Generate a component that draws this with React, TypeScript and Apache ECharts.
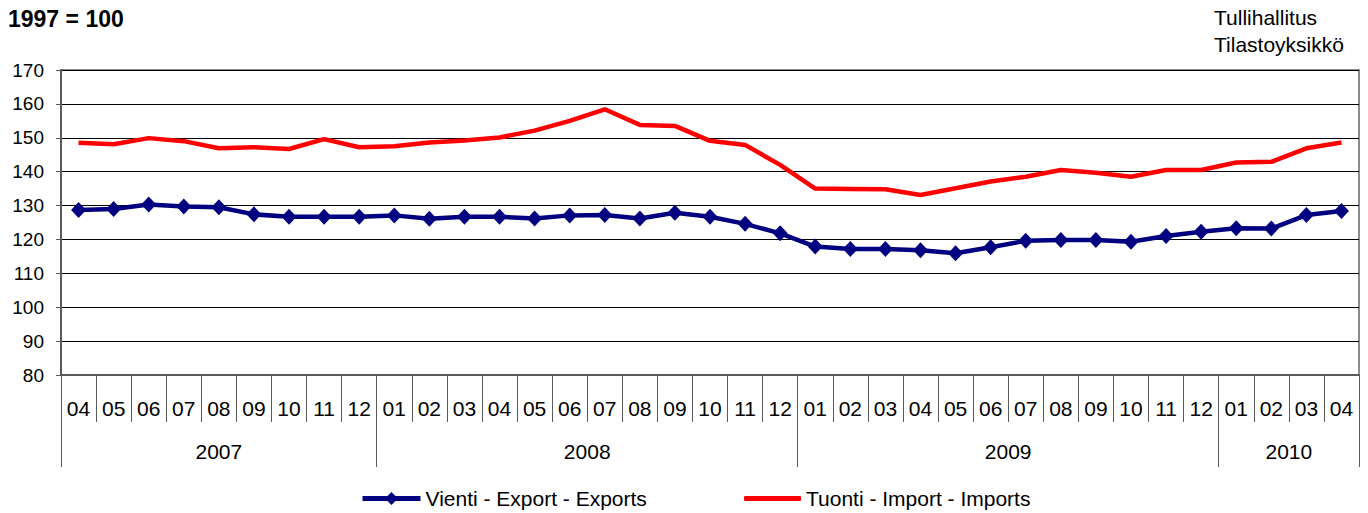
import React, { useEffect, useRef } from 'react';
import * as echarts from 'echarts';

const periods = [
  '2007-04', '2007-05', '2007-06', '2007-07', '2007-08', '2007-09', '2007-10', '2007-11', '2007-12',
  '2008-01', '2008-02', '2008-03', '2008-04', '2008-05', '2008-06', '2008-07', '2008-08', '2008-09', '2008-10', '2008-11', '2008-12',
  '2009-01', '2009-02', '2009-03', '2009-04', '2009-05', '2009-06', '2009-07', '2009-08', '2009-09', '2009-10', '2009-11', '2009-12',
  '2010-01', '2010-02', '2010-03', '2010-04',
];

const exportValues = [
  128.7, 129.0, 130.3, 129.7, 129.5, 127.4, 126.7, 126.7, 126.7,
  127.1, 126.1, 126.7, 126.7, 126.2, 127.1, 127.2, 126.2, 127.9, 126.7, 124.6, 121.8,
  117.9, 117.2, 117.2, 116.8, 115.9, 117.7, 119.6, 119.8, 119.8, 119.3, 121.0, 122.3,
  123.3, 123.2, 127.2, 128.4,
];

const importValues = [
  148.5, 148.1, 149.9, 149.0, 146.9, 147.2, 146.7, 149.6, 147.2,
  147.5, 148.6, 149.2, 150.1, 152.1, 155.0, 158.4, 153.8, 153.5, 149.1, 147.9, 142.0,
  135.0, 134.9, 134.8, 133.1, 135.1, 137.1, 138.5, 140.5, 139.7, 138.5, 140.5, 140.5,
  142.7, 142.9, 146.9, 148.6,
];

const yMin = 80;
const yMax = 170;
const yStep = 10;

const exportName = 'Vienti - Export - Exports';
const importName = 'Tuonti - Import - Imports';
const baseLabel = '1997 = 100';
const sourceLines = ['Tullihallitus', 'Tilastoyksikkö'];

const FONT = '"Liberation Sans", Arial, sans-serif';

export default function App() {
  const ref = useRef<HTMLDivElement>(null);

  useEffect(() => {
    if (!ref.current) return;
    const chart = echarts.init(ref.current, null, { renderer: 'svg' });

    const years: { year: string; start: number; end: number }[] = [];
    periods.forEach((p, i) => {
      const y = p.slice(0, 4);
      const last = years[years.length - 1];
      if (last && last.year === y) last.end = i + 1;
      else years.push({ year: y, start: i, end: i + 1 });
    });
    const yearBounds = [0, ...years.map((y) => y.end)];
    const yearCenters = years.map((y) => (y.start + y.end) / 2);

    const axisGrey = '#5a5a5a';

    chart.setOption({
      animation: false,
      backgroundColor: '#ffffff',
      textStyle: { fontFamily: FONT },
      grid: {
        left: 61,
        right: 9,
        top: 70,
        bottom: 138,
        show: true,
        borderColor: '#8c8c8c',
        borderWidth: 2,
        backgroundColor: 'transparent',
      },
      graphic: [
        {
          type: 'text',
          left: 8,
          top: 7,
          style: { text: baseLabel, font: `bold 23px ${FONT}`, fill: '#000' },
        },
        {
          type: 'text',
          left: 1214,
          top: 7,
          style: { text: sourceLines[0], font: `21px ${FONT}`, fill: '#000' },
        },
        {
          type: 'text',
          left: 1214,
          top: 34,
          style: { text: sourceLines[1], font: `21px ${FONT}`, fill: '#000' },
        },
      ],
      legend: [
        {
          left: 360,
          top: 488,
          padding: 0,
          itemWidth: 58,
          itemHeight: 16,
          data: [exportName],
          lineStyle: { width: 5 },
          textStyle: { fontSize: 21, color: '#000', fontFamily: FONT },
        },
        {
          left: 744,
          top: 488,
          padding: 0,
          itemWidth: 57,
          itemHeight: 5,
          data: [{ name: importName, icon: 'roundRect' }],
          textStyle: { fontSize: 21, color: '#000', fontFamily: FONT },
        },
      ],
      xAxis: [
        {
          type: 'category',
          data: periods,
          boundaryGap: true,
          position: 'bottom',
          axisLine: { show: true, onZero: false, lineStyle: { color: axisGrey, width: 2 } },
          axisTick: { show: true, interval: 0, length: 47, lineStyle: { color: axisGrey, width: 1 } },
          axisLabel: {
            interval: 0,
            margin: 23,
            fontSize: 21,
            color: '#000',
            fontFamily: FONT,
            formatter: (v: string) => v.slice(5),
          },
          splitLine: { show: false },
        },
        {
          type: 'value',
          min: 0,
          max: periods.length,
          position: 'bottom',
          axisLine: { show: false },
          axisTick: {
            show: true,
            length: 92,
            customValues: yearBounds,
            lineStyle: { color: axisGrey, width: 1 },
          },
          axisLabel: {
            show: true,
            margin: 66,
            fontSize: 21,
            color: '#000',
            fontFamily: FONT,
            customValues: yearCenters,
            formatter: (v: number) => {
              const y = years.find((yy) => Math.abs((yy.start + yy.end) / 2 - v) < 1e-6);
              return y ? y.year : '';
            },
          },
          splitLine: { show: false },
        },
      ],
      yAxis: {
        type: 'value',
        min: yMin,
        max: yMax,
        interval: yStep,
        axisLine: { show: true, onZero: false, lineStyle: { color: axisGrey, width: 2 } },
        axisTick: { show: true, length: 5, lineStyle: { color: axisGrey, width: 1 } },
        axisLabel: { margin: 17, fontSize: 19, color: '#000', fontFamily: FONT },
        splitLine: { show: true, lineStyle: { color: '#000', width: 1 } },
      },
      series: [
        {
          name: exportName,
          type: 'line',
          xAxisIndex: 0,
          data: exportValues,
          color: '#000080',
          symbol: 'diamond',
          symbolSize: [15, 16],
          showSymbol: true,
          lineStyle: { width: 4.5, color: '#000080' },
          itemStyle: { color: '#000080' },
          z: 3,
        },
        {
          name: importName,
          type: 'line',
          xAxisIndex: 0,
          data: importValues,
          color: '#ff0000',
          symbol: 'none',
          showSymbol: false,
          lineStyle: { width: 4.5, color: '#ff0000' },
          itemStyle: { color: '#ff0000' },
          z: 2,
        },
      ],
    });

    return () => chart.dispose();
  }, []);

  return (
    <div
      ref={ref}
      style={{ position: 'absolute', left: 0, top: 0, width: 1368, height: 513 }}
    />
  );
}
